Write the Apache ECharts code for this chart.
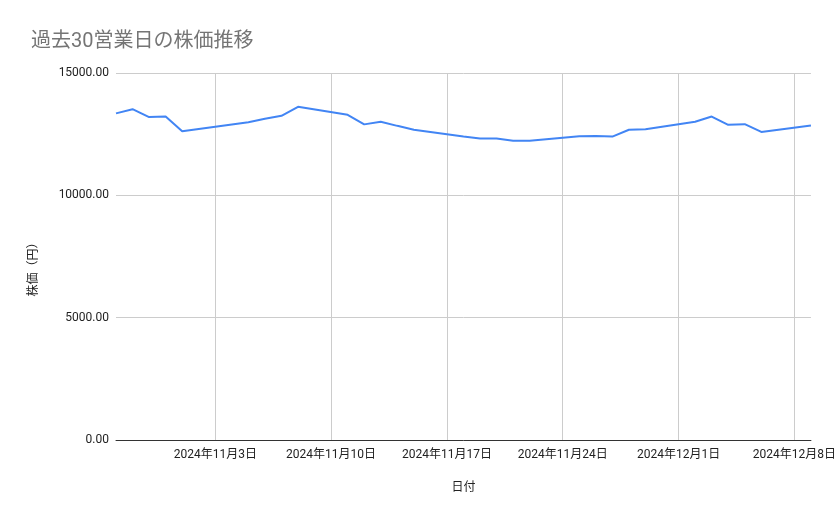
<!DOCTYPE html>
<html>
<head>
  <meta charset="utf-8"/>
  <script src="https://cdn.jsdelivr.net/npm/echarts@6/dist/echarts.min.js"></script>
  <style>html,body{margin:0;padding:0;background:#fff;}</style>
</head>
<body>
  <div id="chartmain" style="width:839px;height:519px;"></div>
  <script type="text/javascript">
    // 営業日と終値
    var dates = ['2024-10-28', '2024-10-29', '2024-10-30', '2024-10-31', '2024-11-01',
                 '2024-11-05', '2024-11-06', '2024-11-07', '2024-11-08',
                 '2024-11-11', '2024-11-12', '2024-11-13', '2024-11-14', '2024-11-15',
                 '2024-11-18', '2024-11-19', '2024-11-20', '2024-11-21', '2024-11-22',
                 '2024-11-25', '2024-11-26', '2024-11-27', '2024-11-28', '2024-11-29',
                 '2024-12-02', '2024-12-03', '2024-12-04', '2024-12-05', '2024-12-06',
                 '2024-12-09'];
    var prices = [13350, 13520, 13200, 13220, 12620,
                  12990, 13130, 13250, 13620,
                  13290, 12900, 13010, 12840, 12680,
                  12400, 12320, 12320, 12230, 12230,
                  12410, 12430, 12400, 12680, 12700,
                  13010, 13220, 12880, 12910, 12590,
                  12850];
    var tickDates = ['2024-11-03', '2024-11-10', '2024-11-17', '2024-11-24', '2024-12-01', '2024-12-08'];
    var xStart = '2024-10-28';
    var xEnd = '2024-12-09';
    var yTicks = [0, 5000, 10000, 15000];

    // 日付 -> 2024-10-27 からの日数
    var base = Date.UTC(2024, 9, 27);
    function dayNo(s) {
      var p = s.split('-');
      return (Date.UTC(+p[0], +p[1] - 1, +p[2]) - base) / 86400000;
    }
    function dayLabel(n) {
      var d = new Date(base + n * 86400000);
      return d.getUTCFullYear() + '年' + (d.getUTCMonth() + 1) + '月' + d.getUTCDate() + '日';
    }

    var data = [];
    for (var i = 0; i < dates.length; i++) {
      data.push([dayNo(dates[i]), prices[i]]);
    }
    var tickVals = tickDates.map(dayNo);

    var font = "Roboto, 'Noto Sans CJK JP', sans-serif";

    var option = {
      animation: false,
      backgroundColor: '#fff',
      title: {
        text: '過去30営業日の株価推移',
        left: 26,
        top: 27,
        textStyle: { color: '#757575', fontSize: 20, fontWeight: 'normal', fontFamily: font }
      },
      grid: { left: 116, right: 26, top: 73, bottom: 79, containLabel: false },
      xAxis: {
        type: 'value',
        min: dayNo(xStart),
        max: dayNo(xEnd),
        name: '日付',
        nameLocation: 'middle',
        nameGap: 42,
        nameTextStyle: { color: '#222', fontSize: 12, fontFamily: font },
        axisLine: { show: true, lineStyle: { color: '#333', width: 1 } },
        axisTick: { show: false, customValues: tickVals },
        axisLabel: {
          customValues: tickVals,
          color: '#222', fontSize: 12, fontFamily: font, margin: 9,
          formatter: function (v) { return dayLabel(v); }
        },
        splitLine: { show: true, lineStyle: { color: '#ccc', width: 1 } }
      },
      yAxis: {
        type: 'value',
        min: yTicks[0],
        max: yTicks[yTicks.length - 1],
        interval: yTicks[1] - yTicks[0],
        name: '株価（円）',
        nameLocation: 'middle',
        nameGap: 76,
        nameTextStyle: { color: '#222', fontSize: 12, fontFamily: font, padding: [0, 20, 0, 0] },
        axisLine: { show: false },
        axisTick: { show: false },
        axisLabel: {
          color: '#222', fontSize: 12, fontFamily: font, margin: 7,
          formatter: function (v) { return v.toFixed(2); }
        },
        splitLine: { show: true, lineStyle: { color: '#ccc', width: 1 } }
      },
      series: [{
        name: '株価',
        type: 'line',
        data: data,
        symbol: 'none',
        lineStyle: { color: '#4285F4', width: 2 },
        itemStyle: { color: '#4285F4' }
      }]
    };

    var myChart = echarts.init(document.getElementById('chartmain'));
    myChart.setOption(option);
  </script>
</body>
</html>
